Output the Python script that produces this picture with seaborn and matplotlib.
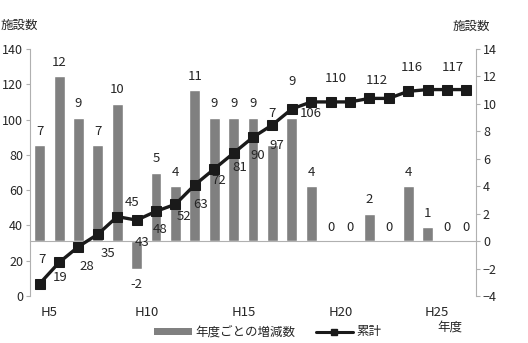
import matplotlib.pyplot as plt
import seaborn as sns
import pandas as pd
import numpy as np
from matplotlib.patches import Patch
from matplotlib.lines import Line2D

# data
years = ['H%d' % y for y in range(5, 28)]
change = [7, 12, 9, 7, 10, -2, 5, 4, 11, 9, 9, 9, 7, 9, 4, 0, 0, 2, 0, 4, 1, 0, 0]
total = [7, 19, 28, 35, 45, 43, 48, 52, 63, 72, 81, 90, 97, 106,
         110, 110, 110, 112, 112, 116, 117, 117, 117]
tick_years = ['H5', 'H10', 'H15', 'H20', 'H25']

df = pd.DataFrame({'year': years, 'change': change, 'total': total})
df['pos'] = np.arange(len(df))

sns.set_style('white')
plt.rcParams['font.family'] = ['Noto Sans CJK JP', 'DejaVu Sans']

BAR = '#808080'
LINE = '#1a1a1a'
AXC = '#b0b0b0'
FS = 9.5

fig = plt.figure(figsize=(5.28, 3.43), dpi=100)
ax = fig.add_axes([30 / 528, 47 / 343, 446 / 528, 247 / 343])

# bars on the right-hand axis
sns.barplot(data=df, x='pos', y='change', ax=ax, color=BAR, saturation=1,
            width=0.56, zorder=2)
ax2 = ax.twinx()
sns.lineplot(data=df, x='pos', y='total', ax=ax2, color=LINE, marker='s',
             markersize=7.5, markeredgecolor=LINE, linewidth=2.4, zorder=3)

n = len(df)
ax.set_xlim(-0.5, n - 0.5)
ax.set_ylim(-4, 14)
ax2.set_ylim(0, 140)
ax.set_xlabel('')
ax.set_ylabel('')
ax2.set_xlabel('')
ax2.set_ylabel('')

# y axes
ax.yaxis.tick_right()
ax.set_yticks(range(-4, 15, 2))
ax2.yaxis.tick_left()
ax2.set_yticks(range(0, 141, 20))
for a in (ax, ax2):
    a.tick_params(axis='y', direction='out', length=3, color=AXC, width=0.8,
                  labelsize=9, pad=2)
    a.spines['top'].set_visible(False)

ax.spines['left'].set_visible(False)
ax.spines['right'].set_color(AXC)
ax2.spines['right'].set_visible(False)
ax2.spines['bottom'].set_visible(False)
ax2.spines['left'].set_color(AXC)

# zero line with category boundary ticks
ax.spines['bottom'].set_position(('data', 0))
ax.spines['bottom'].set_color(AXC)
ax.set_xticks(np.arange(-0.5, n, 1), minor=True)
ax.set_xticks([years.index(t) + 0.5 for t in tick_years])
ax.set_xticklabels(tick_years)
ax.tick_params(axis='x', which='minor', direction='out', length=4,
               color=AXC, width=0.8)
ax.tick_params(axis='x', which='major', length=0, labelbottom=False)
ax2.xaxis.set_visible(True)
ax2.tick_params(axis='x', which='both', length=0, labelbottom=True,
                labelsize=FS, pad=7)
ax2.tick_params(axis='x', which='minor', labelbottom=False)
ax.set_xlim(-0.5, n - 0.5)

# bar labels
bar_lift = {12: 32, 13: 36}
for i, v in enumerate(change):
    dy = bar_lift.get(i, 14) if v >= 0 else -16
    ax.annotate(str(v), (i, v), xytext=(0, dy), textcoords='offset pixels',
                ha='center', va='center', fontsize=FS)

# cumulative labels (pixel offsets from marker)
tot_off = {0: (2, 24), 1: (1, -15), 2: (8, -20), 3: (10, -19), 4: (15, 14),
           5: (5, -22), 6: (4, -18), 7: (9, -12), 8: (6, -20), 9: (4, -12),
           10: (6, -14), 11: (5, -18), 12: (4, -21), 13: (19, -5),
           15: (5, 23), 17: (7, 18), 19: (4, 24), 21: (6, 22)}
for i, (dx, dy) in tot_off.items():
    ax2.annotate(str(total[i]), (i, total[i]), xytext=(dx, dy),
                 textcoords='offset pixels', ha='center', va='center',
                 fontsize=FS, zorder=4)

# titles and legend
fig.text(19 / 528, 1 - 25 / 343, '施設数', ha='center', va='center', fontsize=9)
fig.text(471 / 528, 1 - 26 / 343, '施設数', ha='center', va='center', fontsize=9)
fig.text(450 / 528, 1 - 327 / 343, '年度', ha='center', va='center', fontsize=9)

handles = [Patch(facecolor=BAR, edgecolor='none'),
           Line2D([], [], color=LINE, marker='s', markersize=5, linewidth=2.2)]
fig.legend(handles, ['年度ごとの増減数', '累計'], loc='center',
           bbox_to_anchor=(268 / 528, 1 - 332 / 343), ncol=2, frameon=False,
           fontsize=9, handlelength=3, handleheight=0.5, columnspacing=1.6,
           handletextpad=0.3)

fig.savefig('out.png', dpi=100)
